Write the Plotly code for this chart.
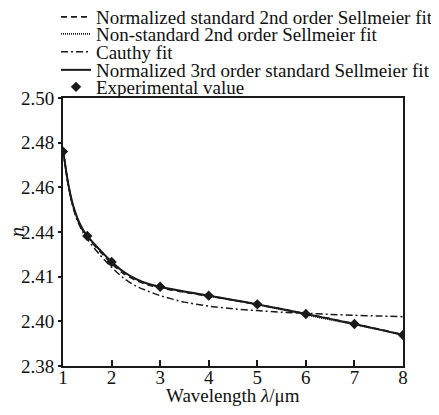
import plotly.graph_objects as go

# ---------------- data ----------------
wl_exp = [1.0, 1.5, 2.0, 3.0, 4.0, 5.0, 6.0, 7.0, 8.0]
n_exp = [2.4760, 2.4382, 2.4266, 2.4155, 2.4115, 2.4076, 2.4033, 2.3988, 2.3939]

wl_fit = [1.0, 1.1, 1.2, 1.3, 1.4, 1.5, 1.75, 2.0, 2.25, 2.5, 2.75, 3.0,
          3.5, 4.0, 4.5, 5.0, 5.5, 6.0, 6.5, 7.0, 7.5, 8.0]
n_sell3 = [2.4770, 2.4625, 2.4525, 2.4460, 2.4415, 2.4383, 2.4322, 2.4267,
           2.4222, 2.4190, 2.4168, 2.4155, 2.4134, 2.4115, 2.4096, 2.4076,
           2.4055, 2.4033, 2.4011, 2.3988, 2.3964, 2.3939]
n_sell2_norm = [2.4770, 2.4622, 2.4520, 2.4455, 2.4410, 2.4378, 2.4315, 2.4258,
                2.4213, 2.4183, 2.4163, 2.4150, 2.4130, 2.4113, 2.4095, 2.4076,
                2.4055, 2.4034, 2.4012, 2.3989, 2.3965, 2.3941]
n_sell2_nonstd = [2.4770, 2.4624, 2.4523, 2.4458, 2.4413, 2.4381, 2.4320, 2.4264,
                  2.4220, 2.4188, 2.4166, 2.4153, 2.4132, 2.4114, 2.4095, 2.4075,
                  2.4053, 2.4030, 2.4007, 2.3986, 2.3963, 2.3940]
n_cauchy = [2.4770, 2.4620, 2.4515, 2.4448, 2.4403, 2.4368, 2.4300, 2.4242,
            2.4193, 2.4158, 2.4135, 2.4115, 2.4086, 2.4068, 2.4056, 2.4048,
            2.4041, 2.4036, 2.4031, 2.4027, 2.4024, 2.4021]

y_tickvals = [2.38, 2.40, 2.42, 2.44, 2.46, 2.48, 2.50]
y_ticktext = ["2.38", "2.40", "2.41", "2.44", "2.46", "2.48", "2.50"]
x_tickvals = [1, 2, 3, 4, 5, 6, 7, 8]

names = ["Normalized standard 2nd order Sellmeier fit",
         "Non-standard 2nd order Sellmeier fit",
         "Cauthy fit",
         "Normalized 3rd order standard Sellmeier fit",
         "Experimental value"]
x_title = "Wavelength <i>λ</i>/μm"
y_title = "<i>n</i>"

FONT = "Liberation Serif, Times New Roman, serif"
INK = "#1a1a1a"
# the page body adds an 8px margin, so the figure is drawn 8px smaller
W, H = 431, 407
L, R, T, B = 55, 36, 90, 49
plot_w, plot_h = W - L - R, H - T - B

fig = go.Figure()
fig.add_trace(go.Scatter(x=wl_fit, y=n_sell2_norm, mode="lines", name=names[0],
                         line=dict(color=INK, width=1.6, dash="6px,4px", shape="spline", smoothing=0.6),
                         legend="legend"))
fig.add_trace(go.Scatter(x=wl_fit, y=n_sell2_nonstd, mode="lines", name=names[1],
                         line=dict(color=INK, width=1.6, dash="1px,1px", shape="spline", smoothing=0.6),
                         legend="legend2"))
fig.add_trace(go.Scatter(x=wl_fit, y=n_cauchy, mode="lines", name=names[2],
                         line=dict(color=INK, width=1.5, dash="7px,3px,2px,3px", shape="spline", smoothing=0.6),
                         legend="legend3"))
fig.add_trace(go.Scatter(x=wl_fit, y=n_sell3, mode="lines", name=names[3],
                         line=dict(color=INK, width=2, shape="spline", smoothing=0.6),
                         legend="legend4"))
fig.add_trace(go.Scatter(x=wl_exp, y=n_exp, mode="markers", name=names[4],
                         marker=dict(symbol="diamond", size=8, color=INK),
                         legend="legend5"))

row_y = [9, 26, 44, 62, 79]  # legend row centres, px from top of figure
legend_common = dict(xref="container", yref="container", xanchor="left", yanchor="middle",
                     bgcolor="rgba(0,0,0,0)", borderwidth=0, itemwidth=30,
                     font=dict(family=FONT, size=19, color="#111"),
                     tracegroupgap=0)
layout_legends = {}
for i, ry in enumerate(row_y):
    key = "legend" if i == 0 else f"legend{i+1}"
    layout_legends[key] = dict(legend_common, x=48 / W, y=1 - ry / H)

fig.update_layout(
    width=W, height=H,
    margin=dict(l=L, r=R, t=T, b=B, autoexpand=False),
    paper_bgcolor="white", plot_bgcolor="white",
    font=dict(family=FONT, size=19, color="#111"),
    showlegend=True,
    annotations=[
        dict(text=x_title, xref="paper", yref="paper", x=0.5, y=-(387 - (T + plot_h)) / plot_h,
             xanchor="center", yanchor="middle", showarrow=False, font=dict(size=19)),
        dict(text=y_title, xref="paper", yref="paper", x=-(L - 9) / plot_w, y=0.5,
             xanchor="center", yanchor="middle", textangle=-90, showarrow=False,
             font=dict(size=20)),
    ],
    **layout_legends,
)
fig.update_xaxes(range=[1, 8], tickvals=x_tickvals, ticks="inside", ticklen=6, tickwidth=1.5,
                 tickcolor=INK, showline=True, linecolor=INK, linewidth=2, mirror=True,
                 showgrid=False, zeroline=False, automargin=False, ticklabelstandoff=-7,
                 tickfont=dict(size=19))
fig.update_yaxes(range=[2.38, 2.50], tickvals=y_tickvals, ticktext=y_ticktext, ticks="outside",
                 ticklen=3, tickwidth=1.5, tickcolor=INK, showline=True, linecolor=INK, linewidth=2,
                 mirror=True, showgrid=False, zeroline=False, automargin=False,
                 tickfont=dict(size=19))

fig.write_html("out.html")
